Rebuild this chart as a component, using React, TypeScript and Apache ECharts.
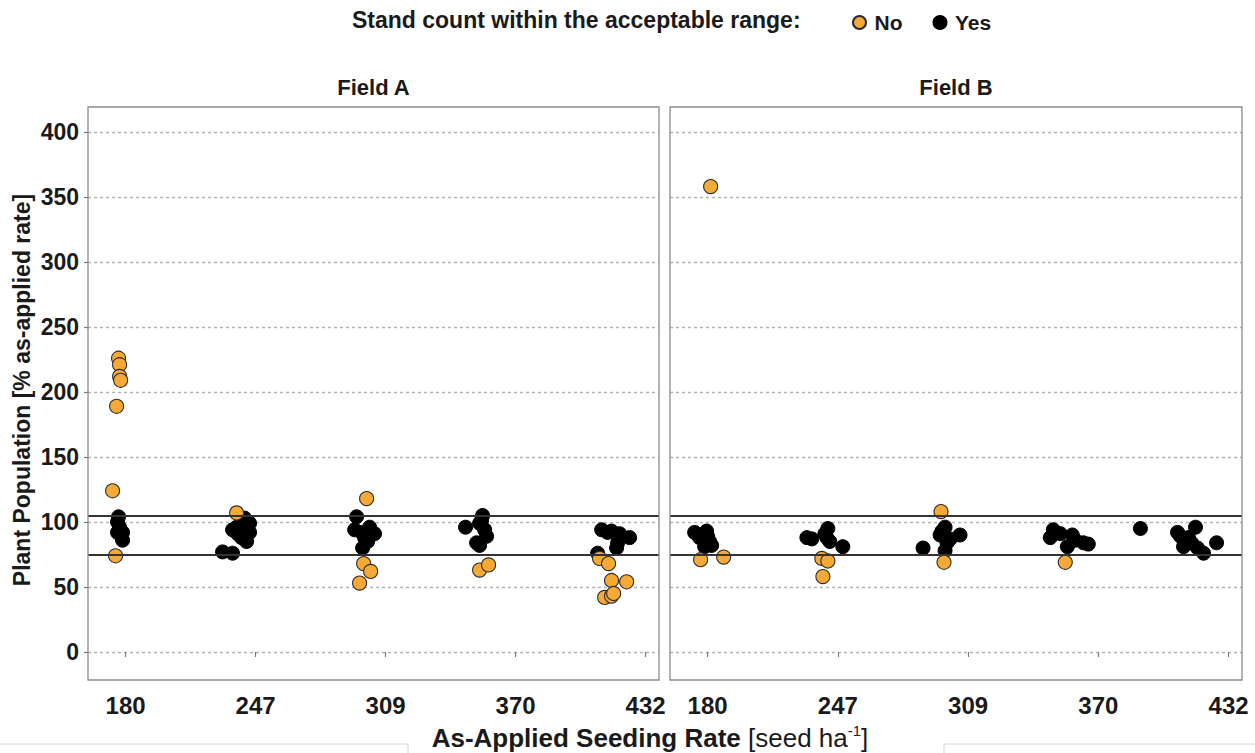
import React, { useEffect, useRef } from "react";
import * as echarts from "echarts";

const rateLabels = ["180", "247", "309", "370", "432"];
const rateTicks = [1, 2, 3, 4, 5];
const yTicks = [0, 50, 100, 150, 200, 250, 300, 350, 400];
const rangeBounds = [75, 105];
const legendNames = ["No", "Yes"];
const fieldNames = ["Field A", "Field B"];

// [jittered seeding-rate position (1 = 180 ... 5 = 432), plant population %]
const fieldANo = [
  [0.946, 226], [0.954, 221], [0.954, 212], [0.962, 209], [0.931, 189], [0.9, 124], [0.923, 74],
  [1.854, 107],
  [2.854, 118], [2.831, 68], [2.885, 62], [2.8, 53],
  [3.723, 63], [3.792, 67],
  [4.646, 72], [4.715, 68], [4.738, 55], [4.854, 54], [4.685, 42], [4.738, 43], [4.754, 45],
];
const fieldAYes = [
  [0.946, 104], [0.938, 100], [0.954, 96], [0.938, 92], [0.977, 92], [0.969, 89], [0.977, 86],
  [1.746, 77], [1.823, 76], [1.915, 103], [1.954, 99], [1.931, 97], [1.823, 94], [1.862, 91], [1.892, 88], [1.931, 85], [1.854, 96], [1.954, 92],
  [2.777, 104], [2.762, 94], [2.877, 96], [2.915, 91], [2.838, 88], [2.823, 80], [2.815, 92], [2.862, 85],
  [3.615, 96], [3.746, 105], [3.723, 99], [3.762, 94], [3.777, 89], [3.7, 84], [3.723, 82], [3.738, 101],
  [4.662, 94], [4.708, 92], [4.8, 91], [4.877, 88], [4.631, 76], [4.777, 80], [4.785, 84], [4.738, 93],
];
const fieldBNo = [
  [1.023, 358], [0.946, 71], [1.123, 73],
  [1.877, 72], [1.923, 70], [1.885, 58],
  [2.792, 108], [2.815, 69],
  [3.746, 69],
];
const fieldBYes = [
  [0.9, 92], [0.992, 93], [1.0, 89], [1.015, 85], [0.977, 81], [1.031, 82], [0.938, 88],
  [1.762, 88], [1.8, 87], [1.923, 95], [1.9, 91], [1.915, 88], [1.938, 85], [2.038, 81],
  [2.654, 80], [2.823, 96], [2.785, 90], [2.938, 90], [2.838, 84], [2.823, 78], [2.8, 93], [2.862, 87],
  [3.654, 94], [3.631, 88], [3.8, 90], [3.885, 84], [3.762, 81], [3.708, 91], [3.823, 86], [3.923, 83], [4.323, 95],
  [4.608, 92], [4.746, 96], [4.692, 88], [4.654, 81], [4.762, 80], [4.808, 76], [4.908, 84], [4.715, 84], [4.631, 89],
];

const FONT = "'Liberation Sans', Arial, sans-serif";
const ORANGE = "#F7A935";
const TEXT = "#1a1a1a";

export default function App() {
  const ref = useRef<HTMLDivElement>(null);

  useEffect(() => {
    if (!ref.current) return;
    const chart = echarts.init(ref.current, null, { renderer: "svg" });

    const panels = [
      { left: 88, width: 571 },
      { left: 670, width: 572 },
    ];
    const panelTop = 107;
    const panelBottom = 680;

    const grids = panels.map((p) => ({
      left: p.left,
      top: 132,
      width: p.width,
      height: 520,
      containLabel: false,
    }));

    const xAxes = panels.map((_, i) => ({
      type: "value",
      gridIndex: i,
      min: 0.711,
      max: 5.103,
      offset: panelBottom - 652,
      axisLine: { show: false },
      axisTick: {
        show: true,
        customValues: rateTicks,
        length: 5,
        lineStyle: { color: "#7a7a7a", width: 1.2 },
      },
      axisLabel: {
        customValues: rateTicks,
        formatter: (v: number) => rateLabels[Math.round(v) - 1] ?? "",
        fontFamily: FONT,
        fontWeight: "bold",
        fontSize: 24,
        color: TEXT,
        margin: 13,
      },
      splitLine: { show: false },
    }));

    const yAxes = panels.map((_, i) => ({
      type: "value",
      gridIndex: i,
      min: 0,
      max: 400,
      interval: 50,
      axisLine: { show: false },
      axisTick: {
        show: i === 0,
        length: 4,
        lineStyle: { color: "#7a7a7a", width: 1.2 },
      },
      axisLabel: {
        show: i === 0,
        fontFamily: FONT,
        fontWeight: "bold",
        fontSize: 23,
        color: TEXT,
        margin: 9,
        formatter: (v: number) => (yTicks.includes(v) ? String(v) : ""),
      },
      splitLine: {
        show: true,
        lineStyle: { color: "#b3b3b3", width: 1.3, type: [3, 3] },
      },
    }));

    const markLine = {
      silent: true,
      symbol: ["none", "none"],
      label: { show: false },
      lineStyle: { color: "#333333", width: 2, type: "solid" },
      data: rangeBounds.map((v) => ({ yAxis: v })),
    };

    const yesStyle = { color: "#000000", borderColor: "#000000", borderWidth: 1, opacity: 1 };
    const noStyle = { color: ORANGE, borderColor: "#2b2b2b", borderWidth: 1.1, opacity: 1 };

    const series: any[] = [];
    [fieldAYes, fieldBYes].forEach((d, i) => {
      series.push({
        type: "scatter",
        name: legendNames[1],
        xAxisIndex: i,
        yAxisIndex: i,
        symbol: "circle",
        symbolSize: 14,
        itemStyle: yesStyle,
        data: d,
        markLine,
        z: 3,
      });
    });
    [fieldANo, fieldBNo].forEach((d, i) => {
      series.push({
        type: "scatter",
        name: legendNames[0],
        xAxisIndex: i,
        yAxisIndex: i,
        symbol: "circle",
        symbolSize: 14,
        itemStyle: noStyle,
        data: d,
        z: 4,
      });
    });

    const graphic: any[] = [];
    panels.forEach((p, i) => {
      graphic.push({
        type: "rect",
        shape: { x: p.left, y: panelTop, width: p.width, height: panelBottom - panelTop },
        style: { fill: "none", stroke: "#8c8c8c", lineWidth: 1.3 },
        silent: true,
        z: 10,
      });
      graphic.push({
        type: "text",
        x: p.left + p.width / 2,
        y: 87,
        style: {
          text: fieldNames[i],
          fontFamily: FONT,
          fontWeight: "bold",
          fontSize: 22,
          fill: TEXT,
          textAlign: "center",
          textVerticalAlign: "middle",
          align: "center",
          verticalAlign: "middle",
        },
      });
    });
    graphic.push({
      type: "text",
      x: 22,
      y: 390,
      rotation: Math.PI / 2,
      style: {
        text: "Plant Population [% as-applied rate]",
        fontFamily: FONT,
        fontWeight: "bold",
        fontSize: 23,
        fill: TEXT,
        textAlign: "center",
        textVerticalAlign: "middle",
        align: "center",
        verticalAlign: "middle",
      },
    });
    graphic.push({
      type: "text",
      x: 650,
      y: 738,
      style: {
        text: "{b|As-Applied Seeding Rate} {n|[seed ha}{s|-1}{n|]}",
        fontFamily: FONT,
        fontSize: 26,
        fill: TEXT,
        textAlign: "center",
        textVerticalAlign: "middle",
        align: "center",
        verticalAlign: "middle",
        rich: {
          b: { fontFamily: FONT, fontWeight: "bold", fontSize: 26, fill: TEXT, lineHeight: 30 },
          n: { fontFamily: FONT, fontWeight: "normal", fontSize: 26, fill: TEXT, lineHeight: 30 },
          s: { fontFamily: FONT, fontWeight: "normal", fontSize: 15, fill: TEXT, lineHeight: 15, verticalAlign: "top" },
        },
      },
    });
    graphic.push({
      type: "text",
      x: 352,
      y: 20,
      style: {
        text: "Stand count within the acceptable range:",
        fontFamily: FONT,
        fontWeight: "bold",
        fontSize: 23,
        fill: TEXT,
        textAlign: "left",
        textVerticalAlign: "middle",
        align: "left",
        verticalAlign: "middle",
      },
    });
    // faint frame edges at the bottom of the picture
    graphic.push({
      type: "polyline",
      shape: { points: [[0, 744], [408, 744], [408, 753]] },
      style: { stroke: "#d4d4d4", lineWidth: 1, fill: "none" },
      silent: true,
    });
    graphic.push({
      type: "polyline",
      shape: { points: [[944, 753], [944, 744], [1255, 744]] },
      style: { stroke: "#d4d4d4", lineWidth: 1, fill: "none" },
      silent: true,
    });

    chart.setOption({
      animation: false,
      backgroundColor: "#ffffff",
      textStyle: { fontFamily: FONT },
      legend: {
        data: legendNames,
        left: 847,
        top: 7,
        itemWidth: 20,
        itemHeight: 13,
        itemGap: 30,
        icon: "circle",
        textStyle: { fontFamily: FONT, fontWeight: "bold", fontSize: 21, color: TEXT },
        selectedMode: false,
      },
      grid: grids,
      xAxis: xAxes,
      yAxis: yAxes,
      series,
      graphic,
    });

    return () => chart.dispose();
  }, []);

  return (
    <div
      ref={ref}
      style={{ position: "fixed", left: 0, top: 0, width: 1255, height: 753, background: "#fff" }}
    />
  );
}
